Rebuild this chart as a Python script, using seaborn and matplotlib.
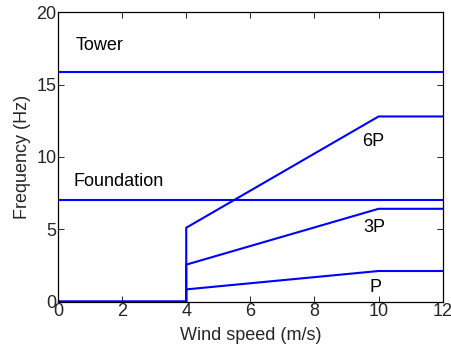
import matplotlib
matplotlib.use("Agg")
import matplotlib.pyplot as plt
import seaborn as sns
import pandas as pd

# Data
wind = [0, 4, 4, 10, 12]
freq_P = [0, 0, 0.85, 2.12, 2.12]
freq_3P = [0, 0, 2.56, 6.42, 6.42]
freq_6P = [0, 0, 5.11, 12.8, 12.8]
tower_freq = 15.85
foundation_freq = 7.03
tower_x = [0, 12]

labels = ["Tower", "Foundation", "6P", "3P", "P"]
label_x = [0.55, 0.47, 9.5, 9.54, 9.72]
label_y = [17.7, 8.34, 11.06, 5.11, 0.97]

sns.set_style("ticks")
plt.rcParams['font.family'] = ['Liberation Sans', 'DejaVu Sans']

fig = plt.figure(figsize=(4.51, 3.47), dpi=100)
ax = fig.add_axes([0.1286, 0.1306, 0.8530, 0.8340])

rows = []
for name, ys in [("P", freq_P), ("3P", freq_3P), ("6P", freq_6P)]:
    for i, (xv, yv) in enumerate(zip(wind, ys)):
        rows.append({"wind": xv, "freq": yv, "series": name, "order": i})
for name, yv in [("Tower", tower_freq), ("Foundation", foundation_freq)]:
    for i, xv in enumerate(tower_x):
        rows.append({"wind": xv, "freq": yv, "series": name, "order": i})
df = pd.DataFrame(rows)

for name, sub in df.groupby("series", sort=False):
    sns.lineplot(data=sub, x="wind", y="freq", estimator=None, sort=False,
                 color="#0000ff", lw=1.5, ax=ax, legend=False)

for t, xv, yv in zip(labels, label_x, label_y):
    ax.text(xv, yv, t, fontsize=13, va="center", ha="left", color="black")

ax.set_xlim(0, 12)
ax.set_ylim(0, 20)
ax.set_xticks(range(0, 13, 2))
ax.set_yticks(range(0, 21, 5))
ax.set_xlabel("Wind speed (m/s)", fontsize=13, labelpad=5)
ax.set_ylabel("Frequency (Hz)", fontsize=13, labelpad=4)
ax.tick_params(direction="in", top=True, right=True, labelsize=13, length=4, width=0.7, pad=1)
for s in ax.spines.values():
    s.set_visible(True)
    s.set_linewidth(0.9)
    s.set_color("black")

fig.savefig("out.png", dpi=100)
